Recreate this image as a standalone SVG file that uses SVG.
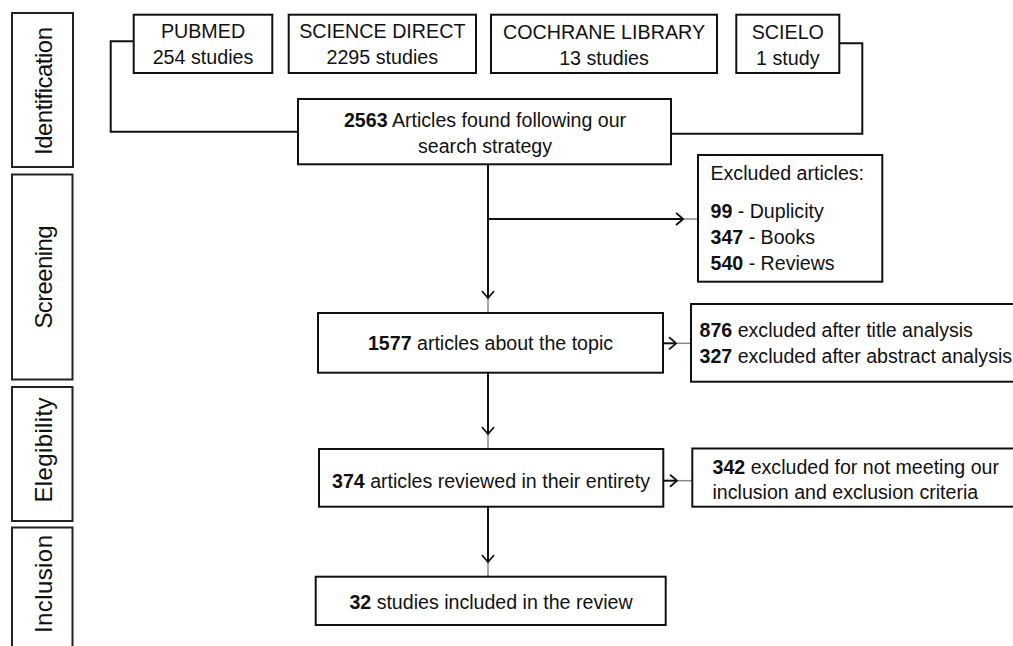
<svg xmlns="http://www.w3.org/2000/svg" width="1013" height="646" viewBox="0 0 1013 646">
<style>
  .box { fill: #fff; stroke: #111; stroke-width: 2; }
  .stage { fill: #fff; stroke: #222; stroke-width: 2; }
  .t { font-family: "Liberation Sans", Arial, sans-serif; font-size: 19.6px; fill: #111; }
  .src { font-family: "Liberation Sans", Arial, sans-serif; font-size: 19.7px; fill: #111; }
  .st { font-family: "Liberation Sans", Arial, sans-serif; font-size: 24px; fill: #111; }
  .c { text-anchor: middle; }
  .b { font-weight: bold; }
  .ln { fill: none; stroke: #111; stroke-width: 2; }
</style>
<defs>
  <marker id="arr" markerUnits="userSpaceOnUse" markerWidth="30" markerHeight="30" viewBox="-10 -10 30 20" refX="0" refY="0" orient="auto" overflow="visible">
    <path d="M0,0 L15,0" stroke="#888" stroke-width="1.5" fill="none"/>
    <path d="M-7,-6 Q-2,-2 0,0 Q-2,2 -7,6" stroke="#111" stroke-width="1.8" fill="none"/>
  </marker>
</defs>

<g id="stage-identification">
  <rect class="stage" x="12" y="13" width="61" height="154"/>
  <text class="st c" transform="translate(52,91) rotate(-90)" x="0" y="0" textLength="128" lengthAdjust="spacing">Identification</text>
</g>
<g id="stage-screening">
  <rect class="stage" x="12" y="174.5" width="60.5" height="205"/>
  <text class="st c" transform="translate(52,277) rotate(-90)" x="0" y="0" textLength="103" lengthAdjust="spacing">Screening</text>
</g>
<g id="stage-elegibility">
  <rect class="stage" x="12" y="387" width="60.5" height="134"/>
  <text class="st c" transform="translate(52,450) rotate(-90)" x="0" y="0" textLength="105" lengthAdjust="spacing">Elegibility</text>
</g>
<g id="stage-inclusion">
  <rect class="stage" x="12" y="527.5" width="60.5" height="130"/>
  <text class="st c" transform="translate(52,584) rotate(-90)" x="0" y="0" textLength="98" lengthAdjust="spacing">Inclusion</text>
</g>

<g id="connectors">
  <polyline class="ln" points="133.7,41.3 110.7,41.3 110.7,131.7 298,131.7"/>
  <polyline class="ln" points="839.3,43.3 862.3,43.3 862.3,133.7 671,133.7"/>
  <path class="ln" d="M488,164 L488,298" marker-end="url(#arr)"/>
  <path class="ln" d="M488,219 L683,219" marker-end="url(#arr)"/>
  <path class="ln" d="M663,343.3 L676,343.3" marker-end="url(#arr)"/>
  <path class="ln" d="M488,373 L488,434" marker-end="url(#arr)"/>
  <path class="ln" d="M663,480.7 L677,480.7" marker-end="url(#arr)"/>
  <path class="ln" d="M488,507 L488,562" marker-end="url(#arr)"/>
</g>

<g id="pubmed">
  <rect class="box" x="133.7" y="14.7" width="138.6" height="58.3"/>
  <text class="src c" x="203" y="38">PUBMED</text>
  <text class="src c" x="203" y="64">254 studies</text>
</g>
<g id="science-direct">
  <rect class="box" x="288.7" y="14.7" width="187.3" height="58.3"/>
  <text class="src c" x="382.3" y="38">SCIENCE DIRECT</text>
  <text class="src c" x="382.3" y="64">2295 studies</text>
</g>
<g id="cochrane">
  <rect class="box" x="491" y="14.7" width="226" height="58.3"/>
  <text class="src c" x="604" y="38.5">COCHRANE LIBRARY</text>
  <text class="src c" x="604" y="64.5">13 studies</text>
</g>
<g id="scielo">
  <rect class="box" x="736.3" y="14.7" width="103" height="58.3"/>
  <text class="src c" x="787.8" y="38.5">SCIELO</text>
  <text class="src c" x="787.8" y="64.5">1 study</text>
</g>

<g id="found">
  <rect class="box" x="298" y="99" width="373" height="65.3"/>
  <text class="t c" x="485" y="127"><tspan class="b">2563</tspan> Articles found following our</text>
  <text class="t c" x="485" y="153.3">search strategy</text>
</g>

<g id="excluded-1">
  <rect class="box" x="698" y="155" width="184.3" height="126.7"/>
  <text class="t" x="710.5" y="180">Excluded articles:</text>
  <text class="t" x="710.5" y="218.3"><tspan class="b">99</tspan> - Duplicity</text>
  <text class="t" x="710.5" y="244.3"><tspan class="b">347</tspan> - Books</text>
  <text class="t" x="710.5" y="270.3"><tspan class="b">540</tspan> - Reviews</text>
</g>

<g id="topic">
  <rect class="box" x="318" y="313" width="345" height="59.7"/>
  <text class="t c" x="490.5" y="350"><tspan class="b">1577</tspan> articles about the topic</text>
</g>

<g id="excluded-2">
  <rect class="box" x="691" y="304" width="330" height="77.7"/>
  <text class="t" x="699.5" y="337"><tspan class="b">876</tspan> excluded after title analysis</text>
  <text class="t" x="699.5" y="363"><tspan class="b">327</tspan> excluded after abstract analysis</text>
</g>

<g id="reviewed">
  <rect class="box" x="319" y="449" width="344.3" height="57.7"/>
  <text class="t c" x="491" y="487.5"><tspan class="b">374</tspan> articles reviewed in their entirety</text>
</g>

<g id="excluded-3">
  <rect class="box" x="692.3" y="448.5" width="330" height="58.2"/>
  <text class="t" x="712.5" y="473.5"><tspan class="b">342</tspan> excluded for not meeting our</text>
  <text class="t" x="712.5" y="498.5">inclusion and exclusion criteria</text>
</g>

<g id="included">
  <rect class="box" x="315.7" y="576.7" width="350" height="48.3"/>
  <text class="t c" x="491" y="608.5"><tspan class="b">32</tspan> studies included in the review</text>
</g>
</svg>
